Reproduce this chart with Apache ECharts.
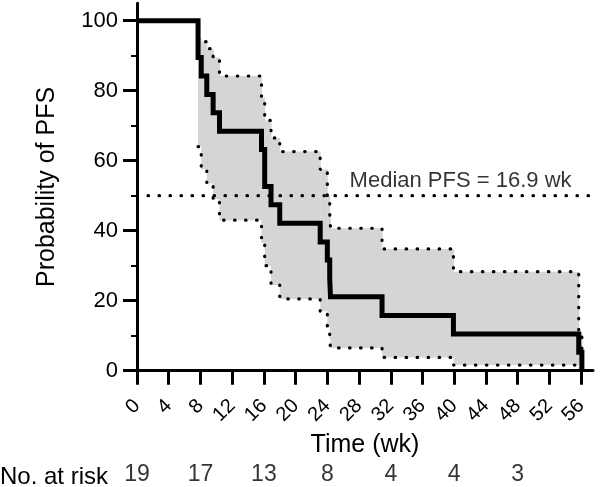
<!DOCTYPE html>
<html><head><meta charset="utf-8">
<script src="https://cdn.jsdelivr.net/npm/echarts@6/dist/echarts.min.js"></script>
<style>html,body{margin:0;padding:0;background:#fff}#c{width:600px;height:487px}</style>
</head><body><div id="c"></div>
<script>
// Kaplan-Meier curve (weeks, % PFS)
const kmTimes    = [0, 7.7, 8.1, 8.8, 9.6, 10.4, 15.7, 16.1, 16.9, 18.0, 23.1, 24.0, 24.3, 24.4, 30.9, 39.9, 55.7, 56.1];
const kmSurvival = [100, 89.5, 84.2, 78.9, 73.7, 68.4, 63.2, 52.6, 47.4, 42.1, 36.8, 31.6, 26.3, 21.1, 15.8, 10.5, 5.3, 0];
// 95% confidence band
const bandTimes = [7.7, 8.1, 8.8, 9.6, 10.4, 15.7, 16.1, 16.9, 18.0, 23.1, 24.0, 24.3, 24.4, 30.9, 39.9, 55.7, 56.1];
const bandUpper = [95, 94, 92, 89.5, 84.2, 78, 71.5, 66.5, 62.6, 57.5, 50, 45, 40.7, 34.8, 28.3, 11, 0];
const bandLower = [64, 57.5, 53.5, 49, 43, 36.5, 30, 24.5, 20.5, 17, 12.5, 9, 6.5, 3.8, 1.6, 0.5, 0];
// median
const medianLevel = 50;
const medianPFS = 16.9;
const medianLabelAt = 40.8;
// number at risk
const atRiskTimes  = [0, 8, 16, 24, 32, 40, 48];
const atRiskCounts = [19, 17, 13, 8, 4, 4, 3];
// ticks
const xTicks = [0, 4, 8, 12, 16, 20, 24, 28, 32, 36, 40, 44, 48, 52, 56];
const yTicks = [0, 20, 40, 60, 80, 100];
const yMinorTicks = [10, 30, 50, 70, 90];
const xMax = 57.5, yMax = 105;

const FONT = 'Liberation Sans, Arial, Helvetica, sans-serif';
const GRAY = '#d5d5d5';
const dotted = { color: '#000', width: 3.2, type: [0.5, 10.5], cap: 'round' };

const bandData = bandTimes.map((t, i) => [t, bandLower[i], bandUpper[i], i + 1 < bandTimes.length ? bandTimes[i + 1] : t]);

const chart = echarts.init(document.getElementById('c'), null, { renderer: 'canvas' });
chart.setOption({
  animation: false,
  backgroundColor: '#fff',
  textStyle: { fontFamily: FONT, color: '#000' },
  grid: [
    { left: 137, right: 7, top: 3.2, bottom: 116.3 },
    { left: 137, right: 7, top: 463, height: 28 }
  ],
  xAxis: [
    {
      type: 'value', gridIndex: 0, min: 0, max: xMax,
      axisLine: { show: true, onZero: false, lineStyle: { color: '#000', width: 3 } },
      axisTick: { show: true, customValues: xTicks, length: 14, lineStyle: { color: '#000', width: 3 } },
      axisLabel: { customValues: xTicks, rotate: 45, fontSize: 20, color: '#000', margin: 32, fontFamily: FONT },
      splitLine: { show: false },
      name: 'Time (wk)', nameLocation: 'middle', nameGap: 61,
      nameTextStyle: { fontSize: 25, color: '#000', fontFamily: FONT }
    },
    { type: 'value', gridIndex: 1, min: 0, max: xMax, show: false }
  ],
  yAxis: [
    {
      type: 'value', gridIndex: 0, min: 0, max: yMax,
      axisLine: { show: true, onZero: false, lineStyle: { color: '#000', width: 3 } },
      axisTick: { show: true, customValues: yTicks, length: 14, lineStyle: { color: '#000', width: 3 } },
      axisLabel: { customValues: yTicks, fontSize: 22, color: '#000', margin: 19, fontFamily: FONT },
      splitLine: { show: false },
      name: 'Probability of PFS', nameLocation: 'middle', nameGap: 77,
      nameTextStyle: { fontSize: 25, color: '#000', fontFamily: FONT }
    },
    {
      type: 'value', gridIndex: 0, min: 0, max: yMax, position: 'left',
      axisLine: { show: false },
      axisTick: { show: true, customValues: yMinorTicks, length: 6, lineStyle: { color: '#000', width: 2 } },
      axisLabel: { show: false }, splitLine: { show: false }
    },
    { type: 'value', gridIndex: 1, min: 0, max: 1, show: false }
  ],
  graphic: [
    { type: 'text', left: 0, top: 465, style: { text: 'No. at risk', fontSize: 24, fontFamily: FONT, fill: '#000' } }
  ],
  series: [
    {
      name: 'band', type: 'custom', z: 1,
      data: bandData,
      renderItem: function (params, api) {
        const p0 = api.coord([api.value(0), api.value(2)]);
        const p1 = api.coord([api.value(3), api.value(1)]);
        if (p1[0] - p0[0] <= 0) return null;
        return {
          type: 'rect',
          shape: { x: p0[0], y: p0[1], width: p1[0] - p0[0] + 0.5, height: p1[1] - p0[1] },
          style: { fill: GRAY, stroke: null }
        };
      }
    },
    {
      name: 'lower', type: 'line', step: 'end', symbol: 'none', z: 3,
      data: bandTimes.map((t, i) => [t, bandLower[i]]),
      lineStyle: dotted
    },
    {
      name: 'upper', type: 'line', step: 'end', symbol: 'none', z: 3,
      data: bandTimes.map((t, i) => [t, bandUpper[i]]),
      lineStyle: dotted
    },
    {
      name: 'median', type: 'line', symbol: 'none', z: 4,
      data: [[0, medianLevel], [xMax, medianLevel]],
      lineStyle: dotted
    },
    {
      name: 'km', type: 'line', step: 'end', symbol: 'none', z: 5,
      data: kmTimes.map((t, i) => [t, kmSurvival[i]]),
      lineStyle: { color: '#000', width: 5, join: 'miter', cap: 'butt' }
    },
    {
      name: 'medianText', type: 'scatter', symbolSize: 0, z: 6,
      data: [[medianLabelAt, medianLevel]],
      label: { show: true, position: 'top', distance: 4, formatter: 'Median PFS = ' + medianPFS + ' wk',
               fontSize: 22, color: '#000', fontFamily: FONT }
    },
    {
      name: 'atRisk', type: 'scatter', xAxisIndex: 1, yAxisIndex: 2, symbolSize: 0,
      data: atRiskTimes.map((t, i) => [t, 0.5, atRiskCounts[i]]),
      label: { show: true, position: 'inside', formatter: p => p.value[2],
               fontSize: 23, color: '#000', fontFamily: FONT }
    }
  ]
});
</script></body></html>
